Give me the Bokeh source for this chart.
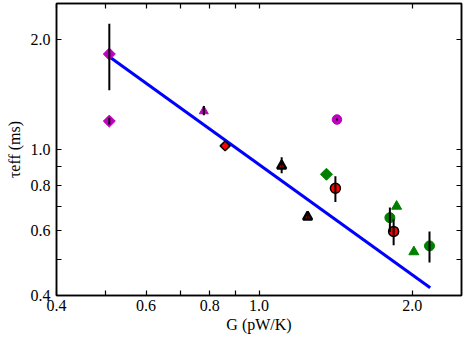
from math import pi
from bokeh.plotting import figure
from bokeh.models import Range1d, FixedTicker, LogAxis
from bokeh.embed import file_html
from bokeh.resources import INLINE

# ---- data (G in pW/K, tau_eff in ms) ----
mag_diamond_G = [0.508, 0.508]
mag_diamond_tau = [1.82, 1.195]
mag_diamond_lo = [1.45, 1.17]
mag_diamond_hi = [2.20, 1.22]

mag_triangle_G = [0.779]
mag_triangle_tau = [1.272]
mag_triangle_lo = [1.24]
mag_triangle_hi = [1.313]

mag_circle_G = [1.423]
mag_circle_tau = [1.207]
mag_circle_lo = [1.200]
mag_circle_hi = [1.215]

red_diamond_G = [0.858]
red_diamond_tau = [1.023]

black_triangle_G = [1.108, 1.246]
black_triangle_tau = [0.902, 0.655]
black_triangle_lo = [0.862, 0.645]
black_triangle_hi = [0.953, 0.665]

red_circle_G = [1.413, 1.839]
red_circle_tau = [0.784, 0.598]
red_circle_lo = [0.719, 0.548]
red_circle_hi = [0.846, 0.645]

green_circle_G = [1.808, 2.163]
green_circle_tau = [0.652, 0.546]
green_circle_lo = [0.596, 0.492]
green_circle_hi = [0.695, 0.598]

green_triangle_G = [1.864, 2.015]
green_triangle_tau = [0.700, 0.526]

green_diamond_G = [1.357]
green_diamond_tau = [0.856]

fit_G = [0.508, 2.17]
fit_tau = [1.79, 0.42]

TICKS = [0.4, 0.5, 0.6, 0.7, 0.8, 0.9, 1.0, 2.0]
TICK_LABELS = {0.4: "0.4", 0.5: "", 0.6: "0.6", 0.7: "", 0.8: "0.8",
               0.9: "", 1.0: "1.0", 2.0: "2.0"}
NO_LABELS = {t: "" for t in TICKS}
X_RANGE = (0.4, 2.5)
Y_RANGE = (0.4, 2.5)
X_LABEL = "G (pW/K)"
Y_LABEL = "τeff (ms)"

FONT = "Liberation Serif"

p = figure(width=465, height=338, x_axis_type="log", y_axis_type="log",
           x_range=Range1d(*X_RANGE), y_range=Range1d(*Y_RANGE),
           output_backend="svg", toolbar_location=None,
           min_border_left=56, min_border_right=4, min_border_top=3,
           min_border_bottom=43)
p.background_fill_color = "white"
p.border_fill_color = "white"
p.grid.visible = False
p.outline_line_color = "black"
p.outline_line_width = 1.5
p.outline_line_alpha = 1.0

p.add_layout(LogAxis(), "above")
p.add_layout(LogAxis(), "right")

for ax in p.axis:
    ax.ticker = FixedTicker(ticks=TICKS)
    ax.major_label_overrides = TICK_LABELS
    ax.major_tick_in = 5
    ax.major_tick_out = 0
    ax.major_tick_line_width = 1.2
    ax.major_tick_line_color = "black"
    ax.minor_tick_line_color = None
    ax.axis_line_color = "black"
    ax.axis_line_width = 1.5
    ax.major_label_text_font = FONT
    ax.major_label_text_font_size = "16px"
    ax.major_label_text_color = "black"
    ax.major_label_standoff = 4
    ax.axis_label_text_font = FONT
    ax.axis_label_text_font_size = "16px"
    ax.axis_label_text_font_style = "normal"
    ax.axis_label_text_color = "black"

for ax in p.above + p.right:
    ax.major_label_overrides = NO_LABELS
    ax.major_label_text_font_size = "1px"
    ax.major_label_standoff = 0

p.below[0].axis_label = X_LABEL
p.below[0].axis_label_standoff = 2
p.left[0].axis_label = Y_LABEL
p.left[0].major_label_standoff = 6
p.left[0].axis_label_standoff = 5

# fit line
p.line(fit_G, fit_tau, line_color="#0000ff", line_width=3)

def errbars(G, lo, hi):
    p.segment(x0=G, y0=lo, x1=G, y1=hi, line_color="black", line_width=2)

# markers
p.scatter(mag_diamond_G, mag_diamond_tau, marker="square", angle=pi / 4,
          size=8.5, fill_color="#bf00bf", line_color="#bf00bf")
p.scatter(mag_triangle_G, mag_triangle_tau, marker="triangle", size=9,
          fill_color="#bf00bf", line_color="#bf00bf")
p.scatter(mag_circle_G, mag_circle_tau, marker="circle", size=9.5,
          fill_color="#bf00bf", line_color="#bf00bf")
p.scatter(red_diamond_G, red_diamond_tau, marker="square", angle=pi / 4,
          size=7, fill_color="red", line_color="black", line_width=1.5)
p.scatter(black_triangle_G, black_triangle_tau, marker="triangle", size=9,
          fill_color="red", line_color="black", line_width=2.5)
p.scatter(green_diamond_G, green_diamond_tau, marker="square", angle=pi / 4,
          size=8.5, fill_color="green", line_color="green")
p.scatter(green_triangle_G, green_triangle_tau, marker="triangle", size=10,
          fill_color="green", line_color="green")
p.scatter(green_circle_G, green_circle_tau, marker="circle", size=10,
          fill_color="green", line_color="green")
p.scatter(red_circle_G, red_circle_tau, marker="circle", size=10,
          fill_color="red", line_color="black", line_width=1.5)

# error bars on top
errbars(mag_diamond_G, mag_diamond_lo, mag_diamond_hi)
errbars(mag_triangle_G, mag_triangle_lo, mag_triangle_hi)
errbars(mag_circle_G, mag_circle_lo, mag_circle_hi)
errbars(black_triangle_G, black_triangle_lo, black_triangle_hi)
errbars(red_circle_G, red_circle_lo, red_circle_hi)
errbars(green_circle_G, green_circle_lo, green_circle_hi)

open("out.html", "w").write(file_html(p, INLINE))
